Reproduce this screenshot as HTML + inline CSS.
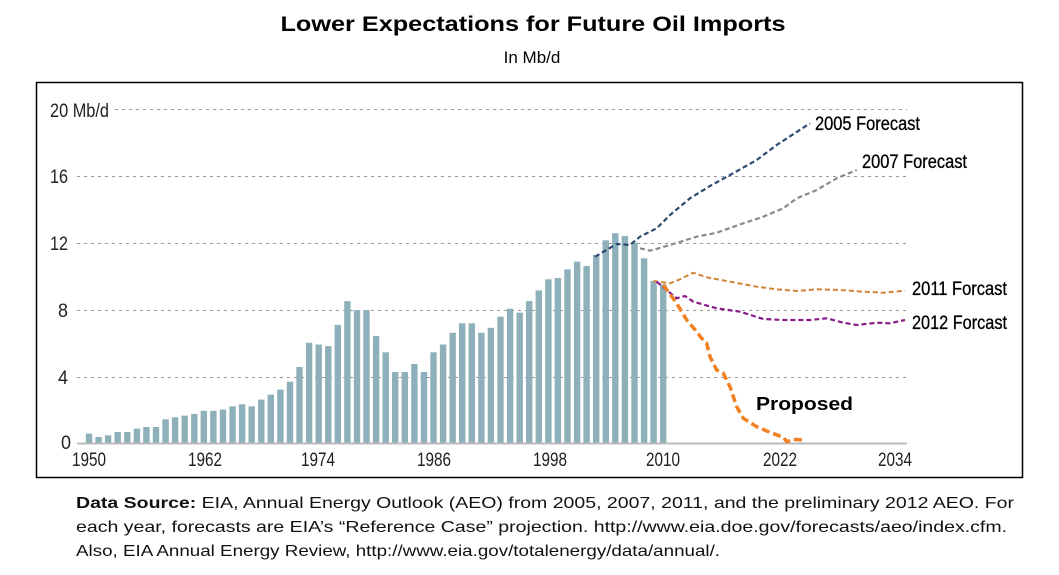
<!DOCTYPE html>
<html><head><meta charset="utf-8"><style>
html,body{margin:0;padding:0;background:#fff;}
svg{display:block;}
text{font-family:"Liberation Sans",sans-serif;}
</style></head><body>
<svg id="s" width="1059" height="575" viewBox="0 0 1059 575" xmlns="http://www.w3.org/2000/svg">
<text x="533" y="31" text-anchor="middle" font-size="21" font-weight="bold" textLength="505" lengthAdjust="spacingAndGlyphs">Lower Expectations for Future Oil Imports</text>
<text x="532" y="63" text-anchor="middle" font-size="17">In Mb/d</text>
<rect x="36.5" y="82.5" width="986" height="395" fill="none" stroke="#000" stroke-width="1.5"/>
<g stroke="#999" stroke-width="1" stroke-dasharray="3,4">
<line x1="115" y1="109.5" x2="907" y2="109.5"/>
<line x1="77" y1="176.5" x2="907" y2="176.5"/>
<line x1="77" y1="243.5" x2="907" y2="243.5"/>
<line x1="77" y1="310.5" x2="907" y2="310.5"/>
<line x1="77" y1="377.5" x2="907" y2="377.5"/>
</g>
<g font-size="19" fill="#222">
<text x="50" y="117" textLength="59" lengthAdjust="spacingAndGlyphs">20 Mb/d</text>
<text x="50" y="183" textLength="18" lengthAdjust="spacingAndGlyphs">16</text>
<text x="50" y="250" textLength="18" lengthAdjust="spacingAndGlyphs">12</text>
<text x="58" y="317" textLength="10" lengthAdjust="spacingAndGlyphs">8</text>
<text x="58" y="384" textLength="10" lengthAdjust="spacingAndGlyphs">4</text>
<text x="61" y="449" textLength="10" lengthAdjust="spacingAndGlyphs">0</text>
</g>
<g id="bars" fill="#8eb0ba"></g>
<line x1="77" y1="443.5" x2="907" y2="443.5" stroke="#bbb" stroke-width="2"/>
<g font-size="19" fill="#222" text-anchor="middle">
<text x="89" y="466" textLength="34" lengthAdjust="spacingAndGlyphs">1950</text>
<text x="205" y="466" textLength="34" lengthAdjust="spacingAndGlyphs">1962</text>
<text x="318" y="466" textLength="34" lengthAdjust="spacingAndGlyphs">1974</text>
<text x="434" y="466" textLength="34" lengthAdjust="spacingAndGlyphs">1986</text>
<text x="550" y="466" textLength="34" lengthAdjust="spacingAndGlyphs">1998</text>
<text x="663" y="466" textLength="34" lengthAdjust="spacingAndGlyphs">2010</text>
<text x="780" y="466" textLength="34" lengthAdjust="spacingAndGlyphs">2022</text>
<text x="895" y="466" textLength="34" lengthAdjust="spacingAndGlyphs">2034</text>
</g>
<g id="lines" fill="none"></g>
<g font-size="19" fill="#000" stroke="#000" stroke-width="0.3">
<text x="815" y="130" textLength="105" lengthAdjust="spacingAndGlyphs">2005 Forecast</text>
<text x="862" y="168" textLength="105" lengthAdjust="spacingAndGlyphs">2007 Forecast</text>
<text x="912" y="295" textLength="95" lengthAdjust="spacingAndGlyphs">2011 Forcast</text>
<text x="912" y="329" textLength="95" lengthAdjust="spacingAndGlyphs">2012 Forcast</text>
</g>
<text x="756" y="410" font-size="18" font-weight="bold" textLength="97" lengthAdjust="spacingAndGlyphs">Proposed</text>
<g font-size="16" fill="#111">
<text x="76" y="508" textLength="938" lengthAdjust="spacingAndGlyphs"><tspan font-weight="bold">Data Source:</tspan> EIA, Annual Energy Outlook (AEO) from 2005, 2007, 2011, and the preliminary 2012 AEO. For</text>
<text x="76" y="532" textLength="931" lengthAdjust="spacingAndGlyphs">each year, forecasts are EIA’s “Reference Case” projection. http://www.eia.doe.gov/forecasts/aeo/index.cfm.</text>
<text x="76" y="556" textLength="644" lengthAdjust="spacingAndGlyphs">Also, EIA Annual Energy Review, http://www.eia.gov/totalenergy/data/annual/.</text>
</g>
</svg>
<script>
var v=[0.56,0.36,0.46,0.66,0.66,0.86,0.96,0.96,1.42,1.54,1.64,1.74,1.92,1.92,2.0,2.2,2.32,2.2,2.6,2.9,3.2,3.67,4.55,6.0,5.9,5.8,7.07,8.5,7.96,7.96,6.4,5.43,4.25,4.25,4.73,4.25,5.43,5.9,6.6,7.17,7.17,6.6,6.9,7.56,8.04,7.8,8.5,9.14,9.8,9.88,10.4,10.86,10.6,11.26,12.14,12.56,12.4,12.0,11.06,9.7,9.5];
var ns="http://www.w3.org/2000/svg",g=document.getElementById("bars");
v.forEach(function(d,i){var x=89+i*9.57,h=d*16.7;var r=document.createElementNS(ns,"rect");
r.setAttribute("x",(x-3.2).toFixed(1));r.setAttribute("y",(443-h).toFixed(1));r.setAttribute("width","6.4");r.setAttribute("height",h.toFixed(1));g.appendChild(r);});
function P(pts,col,w,da){var d="M";pts.forEach(function(p,i){d+=(i?" L":"")+(530+p[0]/3).toFixed(1)+","+(80+p[1]/3).toFixed(1);});
var e=document.createElementNS(ns,"path");e.setAttribute("d",d);e.setAttribute("stroke",col);e.setAttribute("stroke-width",w);e.setAttribute("stroke-dasharray",da);e.setAttribute("stroke-linejoin","round");document.getElementById("lines").appendChild(e);}
P([[195,530],[260,492],[300,495],[330,470],[380,445],[420,405],[480,355],[540,318],[600,285],[680,240],[740,195],[840,130]],"#2d4a70",2.2,"5,3");
P([[330,505],[360,512],[420,495],[500,470],[560,458],[640,430],[700,410],[760,385],[800,355],[860,330],[920,295],[980,270]],"#8a8a8a",2.2,"5,3");
P([[370,603],[420,610],[450,598],[490,578],[530,592],[600,605],[680,620],[740,628],[800,633],[860,628],[930,630],[1000,635],[1060,638],[1125,632]],"#d08535",2,"5,3");
P([[380,605],[410,630],[440,655],[465,648],[490,665],[560,685],[630,695],[700,717],[760,720],[840,720],[890,715],[940,728],[980,735],[1040,728],[1080,730],[1125,720]],"#8a1a8a",2.2,"5,3");
P([[400,615],[440,670],[470,720],[500,755],[515,775],[530,790],[540,830],[560,870],[580,880],[600,920],[620,980],[640,1015],[680,1040],[720,1057],[760,1072],[770,1085],[790,1078],[820,1080]],"#f08020",3.5,"8,4");
</script>
</body></html>
